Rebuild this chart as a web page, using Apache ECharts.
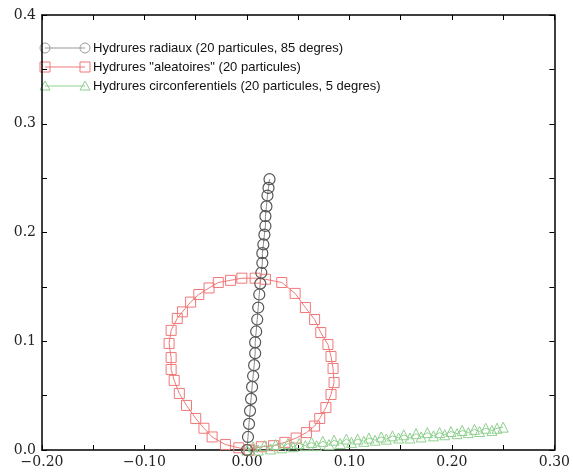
<!DOCTYPE html>
<html>
<head>
<meta charset="utf-8">
<script src="https://cdn.jsdelivr.net/npm/echarts@6/dist/echarts.min.js"></script>
<style>
  html, body { margin: 0; padding: 0; background: #fff; }
  #main { width: 573px; height: 472px; }
</style>
</head>
<body>
<div id="main"></div>
<script>
// hydrures radiaux (x, y)
var radiauxX = [0.000, 0.001, 0.002, 0.003, 0.004, 0.005, 0.006, 0.007, 0.008, 0.008, 0.009, 0.010, 0.011, 0.012, 0.013, 0.014, 0.015, 0.015, 0.016, 0.017, 0.018, 0.018, 0.019, 0.020, 0.021, 0.022];
var radiauxY = [0.000, 0.012, 0.024, 0.036, 0.047, 0.058, 0.068, 0.078, 0.089, 0.099, 0.109, 0.120, 0.131, 0.143, 0.153, 0.163, 0.172, 0.181, 0.189, 0.198, 0.206, 0.215, 0.224, 0.234, 0.241, 0.249];

// hydrures "aleatoires"
var aleatX = [0.002, 0.014, 0.026, 0.037, 0.048, 0.058, 0.066, 0.071, 0.077, 0.082, 0.085, 0.084, 0.082, 0.079, 0.072, 0.066, 0.057, 0.047, 0.034, 0.018, 0.008, -0.005, -0.016, -0.028, -0.037, -0.047, -0.055, -0.063, -0.068, -0.074, -0.076, -0.074, -0.074, -0.071, -0.066, -0.059, -0.050, -0.042, -0.034, -0.021, -0.008, 0.002];
var aleatY = [0.000, 0.003, 0.004, 0.007, 0.011, 0.016, 0.022, 0.029, 0.039, 0.051, 0.062, 0.075, 0.086, 0.097, 0.108, 0.120, 0.131, 0.144, 0.154, 0.157, 0.158, 0.158, 0.156, 0.154, 0.149, 0.143, 0.136, 0.127, 0.121, 0.110, 0.098, 0.085, 0.074, 0.064, 0.052, 0.041, 0.029, 0.020, 0.012, 0.005, 0.002, 0.000];

// hydrures circonferentiels
var circX = [0.000, 0.006, 0.011, 0.017, 0.023, 0.028, 0.034, 0.040, 0.045, 0.051, 0.057, 0.063, 0.068, 0.074, 0.080, 0.085, 0.091, 0.097, 0.102, 0.108, 0.114, 0.119, 0.125, 0.131, 0.136, 0.142, 0.148, 0.153, 0.159, 0.165, 0.170, 0.176, 0.182, 0.188, 0.193, 0.199, 0.205, 0.210, 0.216, 0.222, 0.227, 0.233, 0.239, 0.244, 0.250];
var circY = [0.000, 0.003, 0.000, 0.004, 0.001, 0.005, 0.002, 0.006, 0.003, 0.006, 0.004, 0.007, 0.004, 0.008, 0.005, 0.009, 0.006, 0.010, 0.007, 0.010, 0.008, 0.011, 0.009, 0.012, 0.010, 0.013, 0.011, 0.014, 0.011, 0.015, 0.012, 0.016, 0.013, 0.016, 0.014, 0.017, 0.015, 0.018, 0.016, 0.019, 0.017, 0.020, 0.018, 0.020, 0.021];

var seriesNames = [
  'Hydrures radiaux (20 particules, 85 degres)',
  'Hydrures "aleatoires" (20 particules)',
  'Hydrures circonferentiels (20 particules, 5 degres)'
];

function pairs(xs, ys) {
  return xs.map(function (x, i) { return [x, ys[i]]; });
}

var colBlack = '#555555';
var colRed = '#f07878';
var colGreen = '#8fd08f';
var serif = '"DejaVu Serif", "Liberation Serif", serif';
var sans = '"Liberation Sans", Arial, sans-serif';

function fmt(v, d) {
  var k = Math.round(v * 100);
  if (k % 10 !== 0) return '';
  return v.toFixed(d).replace('-', '\u2212');
}

var tickCommon = {
  axisLine: { show: true, onZero: false, lineStyle: { color: '#000', width: 1.5 } },
  axisTick: { show: true, inside: true, length: 5, lineStyle: { color: '#000', width: 1 } },
  splitLine: { show: false }
};

var chart = echarts.init(document.getElementById('main'));
chart.setOption({
  animation: false,
  backgroundColor: '#fff',
  grid: { left: 42, right: 15, top: 15, bottom: 22, containLabel: false },
  xAxis: [
    Object.assign({
      type: 'value', position: 'bottom', min: -0.2, max: 0.3, interval: 0.05,
      axisLabel: { margin: 5, fontFamily: serif, fontSize: 14, color: '#222',
        formatter: function (v) { return fmt(v, 2); } }
    }, tickCommon),
    Object.assign({
      type: 'value', position: 'top', min: -0.2, max: 0.3, interval: 0.05,
      axisLabel: { show: false }
    }, tickCommon)
  ],
  yAxis: [
    Object.assign({
      type: 'value', position: 'left', min: 0, max: 0.4, interval: 0.05,
      axisLabel: { margin: 6, fontFamily: serif, fontSize: 14, color: '#222',
        formatter: function (v) { return fmt(v, 1); } }
    }, tickCommon),
    Object.assign({
      type: 'value', position: 'right', min: 0, max: 0.4, interval: 0.05,
      axisLabel: { show: false }
    }, tickCommon)
  ],
  series: [
    {
      name: seriesNames[1], type: 'line', data: pairs(aleatX, aleatY),
      symbol: 'rect', symbolSize: 10, showAllSymbol: true,
      lineStyle: { color: colRed, width: 1 },
      itemStyle: { color: 'rgba(0,0,0,0)', borderColor: colRed, borderWidth: 1 }
    },
    {
      name: seriesNames[2], type: 'line', data: pairs(circX, circY),
      symbol: 'triangle', symbolSize: 10, showAllSymbol: true,
      lineStyle: { color: colGreen, width: 1 },
      itemStyle: { color: 'rgba(0,0,0,0)', borderColor: colGreen, borderWidth: 1 }
    },
    {
      name: seriesNames[0], type: 'line', data: pairs(radiauxX, radiauxY),
      symbol: 'circle', symbolSize: 11, showAllSymbol: true,
      lineStyle: { color: '#888', width: 1 },
      itemStyle: { color: 'rgba(0,0,0,0)', borderColor: colBlack, borderWidth: 1.2 }
    }
  ],
  // legende dessinee a la main (trait + deux symboles)
  graphic: [
    { type: 'line', shape: { x1: 45, y1: 48, x2: 85, y2: 48 }, style: { stroke: '#999', lineWidth: 1 } },
    { type: 'circle', shape: { cx: 45, cy: 48, r: 5 }, style: { fill: 'none', stroke: '#999', lineWidth: 1 } },
    { type: 'circle', shape: { cx: 85, cy: 48, r: 5 }, style: { fill: 'none', stroke: '#999', lineWidth: 1 } },
    { type: 'text', x: 93, y: 48, style: { text: seriesNames[0], font: '13px ' + sans, fill: '#111', verticalAlign: 'middle' } },

    { type: 'line', shape: { x1: 45, y1: 67, x2: 85, y2: 67 }, style: { stroke: colRed, lineWidth: 1 } },
    { type: 'rect', shape: { x: 40, y: 62, width: 10, height: 10 }, style: { fill: 'none', stroke: colRed, lineWidth: 1 } },
    { type: 'rect', shape: { x: 80, y: 62, width: 10, height: 10 }, style: { fill: 'none', stroke: colRed, lineWidth: 1 } },
    { type: 'text', x: 93, y: 67, style: { text: seriesNames[1], font: '13px ' + sans, fill: '#111', verticalAlign: 'middle' } },

    { type: 'line', shape: { x1: 45, y1: 86, x2: 85, y2: 86 }, style: { stroke: colGreen, lineWidth: 1 } },
    { type: 'polygon', shape: { points: [[45, 81], [50, 90], [40, 90]] }, style: { fill: 'none', stroke: colGreen, lineWidth: 1 } },
    { type: 'polygon', shape: { points: [[85, 81], [90, 90], [80, 90]] }, style: { fill: 'none', stroke: colGreen, lineWidth: 1 } },
    { type: 'text', x: 93, y: 86, style: { text: seriesNames[2], font: '13px ' + sans, fill: '#111', verticalAlign: 'middle' } }
  ]
});
</script>
</body>
</html>
